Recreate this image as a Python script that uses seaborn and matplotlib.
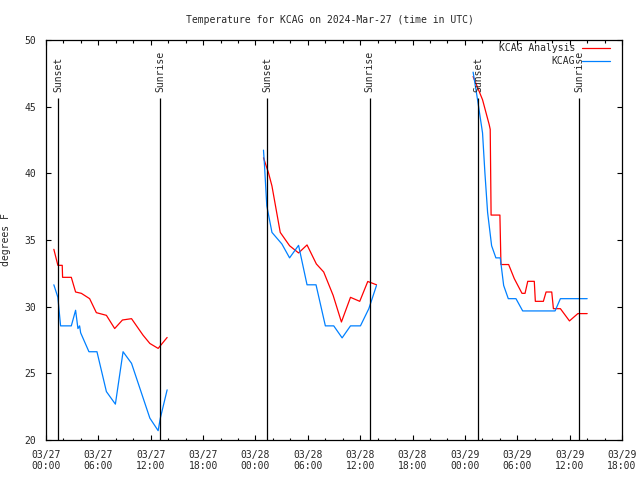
import numpy as np
import pandas as pd
import matplotlib
matplotlib.use('Agg')
import matplotlib.pyplot as plt
import matplotlib.dates as mdates
import seaborn as sns

# hours after 2024-03-27 00:00 UTC, three evening/overnight segments
ana_hours = [
    [0.90, 1.36, 1.86, 1.90, 2.90, 3.39, 4.05, 5.00, 5.77, 6.92, 7.87, 8.76, 9.80, 11.12, 11.90, 12.85, 13.88],
    [24.92, 25.49, 25.89, 26.84, 27.91, 28.94, 29.91, 30.98, 31.82, 32.90, 33.85, 34.89, 35.95, 36.87, 37.87],
    [48.94, 50.02, 50.78, 50.90, 51.00, 52.01, 52.13, 53.01, 53.66, 54.54, 54.89, 55.20, 55.95, 56.07,
     56.99, 57.30, 57.95, 58.14, 58.94, 59.98, 60.94, 62.01],
]
ana_temps = [
    [34.3, 33.1, 33.1, 32.2, 32.2, 31.1, 31.0, 30.6, 29.55, 29.35, 28.36, 29.0, 29.1, 27.86, 27.24, 26.87, 27.69],
    [41.17, 40.05, 39.05, 35.57, 34.57, 34.03, 34.63, 33.2, 32.6, 30.85, 28.85, 30.7, 30.4, 31.89, 31.64],
    [47.26, 45.52, 43.66, 43.3, 36.87, 36.87, 33.16, 33.16, 32.1, 31.0, 31.0, 31.9, 31.9, 30.4,
     30.4, 31.1, 31.1, 29.85, 29.85, 28.93, 29.48, 29.48],
]
obs_hours = [
    [0.90, 1.36, 1.67, 2.90, 3.39, 3.66, 3.85, 3.97, 4.92, 5.84, 6.92, 7.95, 8.83, 9.80, 11.90, 12.85, 13.10, 13.88],
    [24.92, 25.03, 25.30, 25.89, 27.03, 27.91, 28.94, 29.91, 30.94, 32.01, 32.97, 33.93, 34.89, 36.03, 36.99, 37.87],
    [48.94, 49.45, 50.02, 50.29, 50.60, 51.06, 51.55, 52.05, 52.44, 52.97, 53.85, 54.62, 58.33, 58.94, 62.01],
]
obs_temps = [
    [31.64, 30.7, 28.56, 28.56, 29.73, 28.36, 28.56, 28.04, 26.62, 26.62, 23.63, 22.69, 26.62, 25.75, 21.64, 20.7, 21.64, 23.76],
    [41.74, 40.67, 37.56, 35.57, 34.7, 33.66, 34.6, 31.64, 31.64, 28.56, 28.56, 27.66, 28.56, 28.56, 29.85, 31.59],
    [47.59, 45.52, 43.03, 40.05, 37.07, 34.57, 33.66, 33.66, 31.59, 30.6, 30.6, 29.68, 29.68, 30.6, 30.6],
]

sun_hours = [1.38, 13.05, 25.38, 37.10, 49.52, 61.13]
sun_labels = ['Sunset', 'Sunrise', 'Sunset', 'Sunrise', 'Sunset', 'Sunrise']

base = pd.Timestamp('2024-03-27 00:00')

rows = []
for name, hrs, tmps in [('KCAG Analysis', ana_hours, ana_temps), ('KCAG', obs_hours, obs_temps)]:
    for seg, (h, t) in enumerate(zip(hrs, tmps)):
        for hh, tt in zip(h, t):
            rows.append({'time': base + pd.Timedelta(hours=hh), 'temp': tt, 'series': name, 'segment': seg})
df = pd.DataFrame(rows)

sns.set_style('ticks')
plt.rcParams['font.family'] = ['DejaVu Sans Mono']
plt.rcParams['font.size'] = 7

fig = plt.figure(figsize=(6.4, 4.8), dpi=100)
ax = fig.add_axes([46 / 640, 40 / 480, 576 / 640, 400 / 480])

sns.lineplot(data=df, x='time', y='temp', hue='series', units='segment', estimator=None,
             hue_order=['KCAG Analysis', 'KCAG'],
             palette={'KCAG Analysis': '#ff0000', 'KCAG': '#0080ff'},
             linewidth=0.9, ax=ax)

leg = ax.get_legend()
handles = leg.legend_handles
labels = [t.get_text() for t in leg.texts]
leg.remove()
ax.legend(handles, labels, loc='upper right', bbox_to_anchor=(610 / 640, 1 - 43 / 480),
          bbox_transform=fig.transFigure, frameon=False, markerfirst=False,
          handlelength=2.9, handletextpad=0.7, labelspacing=0.35, borderpad=0, borderaxespad=0,
          fontsize=7)

sun_times = [base + pd.Timedelta(hours=h) for h in sun_hours]
ax.vlines(sun_times, 20, 45.67, color='black', linewidth=0.9)
for t, lab in zip(sun_times, sun_labels):
    ax.text(t, 46.1, lab, rotation=90, ha='center', va='bottom', fontsize=7)

ax.set_xlim(base, base + pd.Timedelta(hours=66))
ax.set_ylim(20, 50)
ax.set_yticks(np.arange(20, 51, 5))
ax.xaxis.set_major_locator(mdates.HourLocator(byhour=[0, 6, 12, 18]))
ax.xaxis.set_major_formatter(mdates.DateFormatter('%m/%d\n%H:%M'))
ax.xaxis.set_minor_locator(mdates.HourLocator(byhour=range(0, 24, 2)))
ax.tick_params(which='both', direction='in', top=True, right=True, width=0.8, color='black',
               labelsize=7)
ax.tick_params(which='major', length=3.5, pad=7)
ax.tick_params(which='minor', length=1.8)
for s in ax.spines.values():
    s.set_linewidth(0.9)
    s.set_color('black')

ax.set_xlabel('')
ax.set_ylabel('degrees F', fontsize=7)
ax.yaxis.set_label_coords(-0.061, 0.5)
fig.text(330 / 640, 1 - 20 / 480, 'Temperature for KCAG on 2024-Mar-27 (time in UTC)',
         ha='center', va='center', fontsize=7)

fig.savefig('out.png', dpi=100)
